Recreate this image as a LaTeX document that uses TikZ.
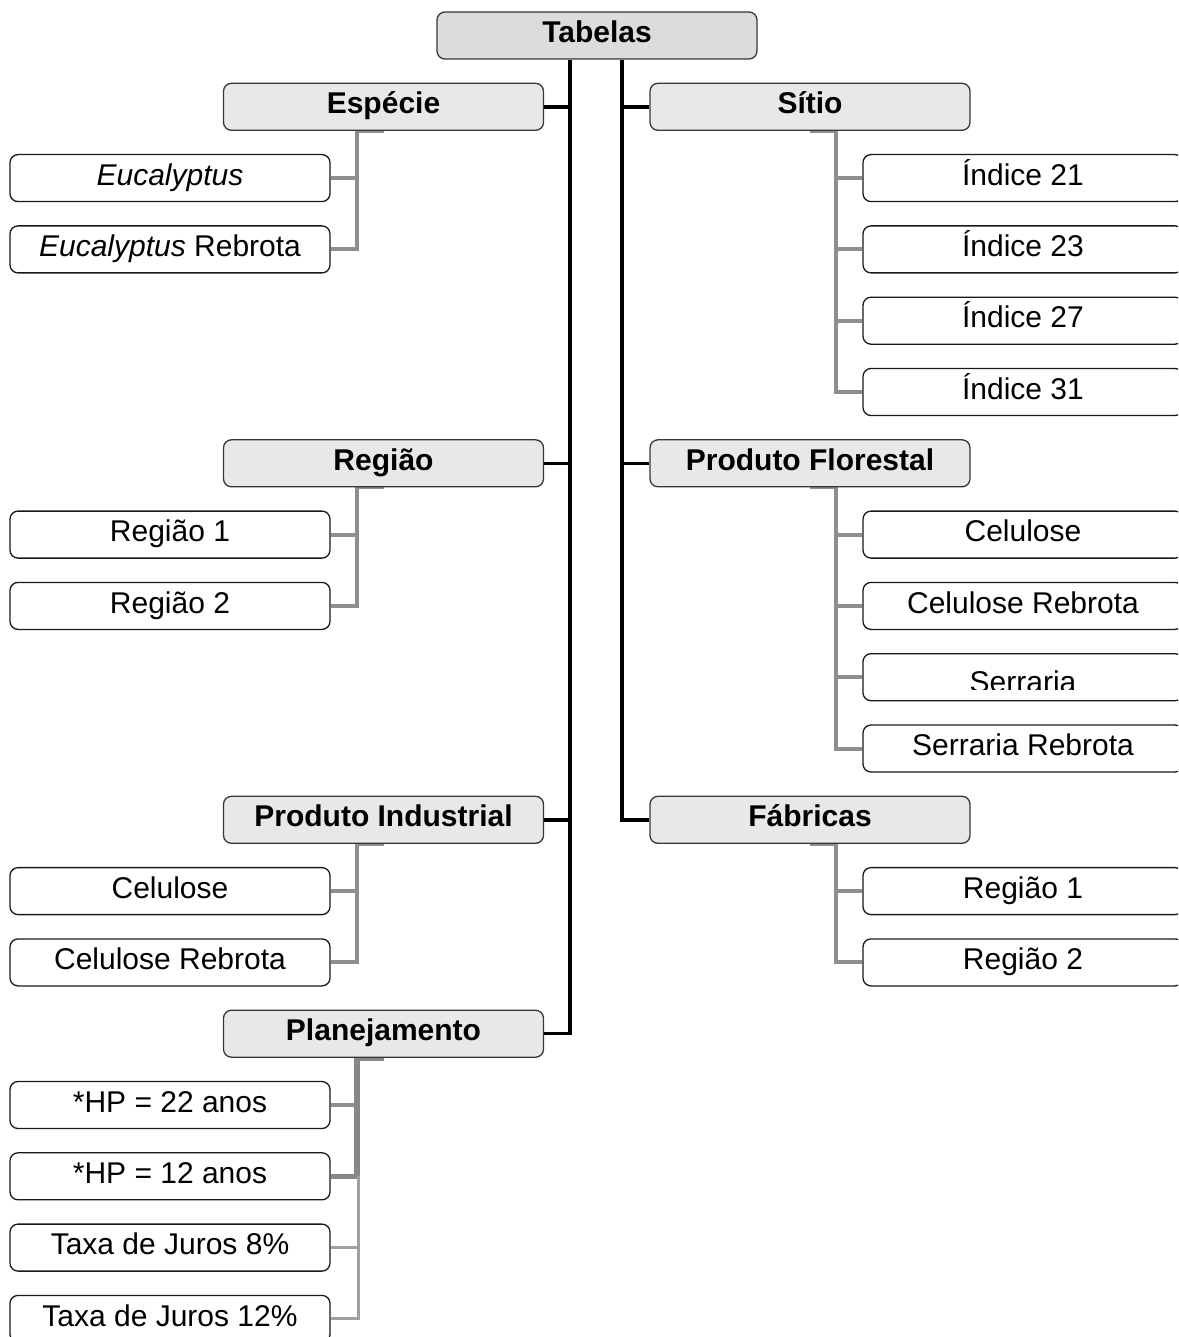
\documentclass[tikz,border=0pt]{standalone}
\usepackage{fontspec}
\setmainfont{Liberation Sans}
\pgfdeclarelayer{paper}
\pgfdeclarelayer{bg}
\pgfsetlayers{paper,bg,main}
\definecolor{rootfill}{HTML}{DCDCDC}
\definecolor{headfill}{HTML}{E8E8E8}
\definecolor{headline}{HTML}{383838}
\definecolor{twiggray}{HTML}{8E8E8E}
\definecolor{twiglight}{HTML}{A0A0A0}
\tikzset{
  basebox/.style={rounded corners=8pt, minimum width=320pt, minimum height=47pt,
    inner sep=0pt, text height=21.5pt, text depth=7.3pt, line width=1.3pt},
  head/.style={basebox, draw=headline, fill=headfill,
    font=\fontsize{30}{36}\selectfont\bfseries},
  root/.style={head, fill=rootfill},
  leaf/.style={basebox, draw=black!90, fill=white,
    font=\fontsize{30}{36}\selectfont},
  trunk/.style={line width=3.5pt, draw=black},
  twig/.style={line width=4pt, draw=twiggray},
  twigthick/.style={line width=5.5pt, draw=twiggray!95!black},
  twigthin/.style={line width=3pt, draw=twiglight},
}
\begin{document}
\begin{tikzpicture}[x=1pt, y=-1pt]
\useasboundingbox (0,0) rectangle (1178,1337);
\clip (0,0) rectangle (1178,1337);
\begin{pgfonlayer}{paper}
  \fill[white] (0,0) rectangle (1178,1337);
\end{pgfonlayer}

% column positions of the trunks and twigs
\coordinate (ltrunk) at (570,0);
\coordinate (rtrunk) at (622,0);
\coordinate (lcol) at (357,0);
\coordinate (lcolb) at (358.5,0);
\coordinate (rcol) at (836,0);

% root
\node[root] (tab) at (597,35.5) {Tabelas};

% left headings
\node[head] (esp)  at (383.5,106.8)  {Espécie};
\node[head] (reg)  at (383.5,463.3)  {Região};
\node[head] (pind) at (383.5,819.8)  {Produto Industrial};
\node[head] (plan) at (383.5,1033.7) {Planejamento};

% right headings
\node[head] (sit)  at (810,106.8) {Sítio};
\node[head] (pflo) at (810,463.3) {Produto Florestal};
\node[head] (fab)  at (810,819.8) {Fábricas};

% left leaves
\node[leaf] (euc)  at (170,178.1) {\itshape Eucalyptus};
\node[leaf] (eucr) at (170,249.4) {\textit{Eucalyptus} Rebrota};
\node[leaf] (reg1) at (170,534.6) {Região 1};
\node[leaf] (reg2) at (170,605.9) {Região 2};
\node[leaf] (cel)  at (170,891.1) {Celulose};
\node[leaf] (celr) at (170,962.4) {Celulose Rebrota};
\node[leaf] (hp22) at (170,1105.0) {*HP = 22 anos};
\node[leaf] (hp12) at (170,1176.3) {*HP = 12 anos};
\node[leaf] (tj8)  at (170,1247.6) {Taxa de Juros 8\%};
\node[leaf] (tj12) at (170,1318.9) {Taxa de Juros 12\%};

% right leaves
\node[leaf] (ind21) at (1023,178.1) {Índice 21};
\node[leaf] (ind23) at (1023,249.4) {Índice 23};
\node[leaf] (ind27) at (1023,320.7) {Índice 27};
\node[leaf] (ind31) at (1023,392.0) {Índice 31};
\node[leaf] (fcel)  at (1023,534.6) {Celulose};
\node[leaf] (fcelr) at (1023,605.9) {Celulose Rebrota};
\node[leaf] (serr)  at (1023,677.2) {};
\node[leaf] (serrr) at (1023,748.5) {Serraria Rebrota};
\node[leaf] (freg1) at (1023,891.1) {Região 1};
\node[leaf] (freg2) at (1023,962.4) {Região 2};

% label of the Serraria box, sitting low and cut at its foot
\begin{scope}
  \clip (863,654) rectangle (1183,689);
  \node[font=\fontsize{30}{36}\selectfont, inner sep=0pt, text height=21.5pt,
        text depth=7.3pt] (serrtxt) at (1023,685) {Serraria};
\end{scope}

\begin{pgfonlayer}{bg}
  % black trunks from the root to the headings
  \draw[trunk] (tab.south -| ltrunk) |- (plan.east);
  \draw[trunk] (tab.south -| rtrunk) |- (fab.west);
  \draw[trunk] (ltrunk |- esp.east) -- (esp.east);
  \draw[trunk] (ltrunk |- reg.east) -- (reg.east);
  \draw[trunk] (ltrunk |- pind.east) -- (pind.east);
  \draw[trunk] (rtrunk |- sit.west) -- (sit.west);
  \draw[trunk] (rtrunk |- pflo.west) -- (pflo.west);

  % grey twigs to the leaves, left side
  \foreach \p/\c in {esp/euc, esp/eucr, reg/reg1, reg/reg2, pind/cel, pind/celr}
    \draw[twig] (\p.south) -| (lcol |- \c.east) -- (\c.east);
  \draw[twig] (plan.south) -| (lcol |- hp22.east) -- (hp22.east);
  \draw[twigthick] (plan.south) -| (lcol |- hp12.east) -- (hp12.east);
  \draw[twigthin] (lcolb |- hp12.east) |- (tj12.east);
  \draw[twigthin] (lcolb |- tj8.east) -- (tj8.east);

  % grey twigs to the leaves, right side
  \foreach \p/\c in {sit/ind21, sit/ind23, sit/ind27, sit/ind31,
                     pflo/fcel, pflo/fcelr, pflo/serr, pflo/serrr,
                     fab/freg1, fab/freg2}
    \draw[twig] (\p.south) -| (rcol |- \c.west) -- (\c.west);
\end{pgfonlayer}
\end{tikzpicture}
\end{document}
